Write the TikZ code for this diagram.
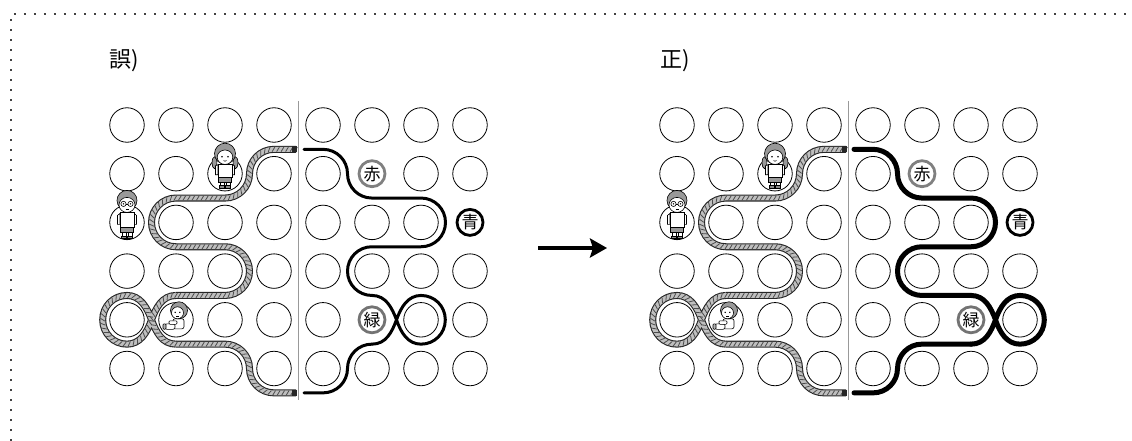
\documentclass[tikz,border=0pt]{standalone}
\usepackage{fontspec}
\newfontfamily\jp{Noto Sans CJK JP}
\usetikzlibrary{arrows.meta,decorations.markings}
\tikzset{
 plain/.style={circle, draw, line width=0.8pt, minimum size=34.5pt, inner sep=0pt},
 lab/.style={circle, draw, line width=2.8pt, minimum size=26pt, inner sep=0pt, font=\jp\fontsize{17pt}{17pt}\selectfont},
 title/.style={anchor=west, inner sep=0pt, font=\jp\fontsize{22pt}{22pt}\selectfont},
 divider/.style={draw=black!40, line width=1.6pt},
 dotline/.style={draw=black!75, line width=1.8pt, dash pattern=on 1.8pt off 8.2pt},
 ropeout/.style={draw=black!85, line width=7pt},
 ropein/.style={draw=black!25, line width=4.8pt},
 ropehatch/.style={decoration={markings, mark=between positions 0 and 1 step 4.5pt with {\draw[black!70, line width=0.8pt] (-1.4pt,-2.3pt) -- (1.4pt,2.3pt);}}, decorate},
 wline/.style={draw=black, line width=3pt, line cap=round},
 cline/.style={draw=black, line width=5pt, line cap=round},
 bigarrow/.style={line width=4.5pt, -{Stealth[length=17pt,width=19pt,inset=3pt]}},
 kid/.style={line width=0.6pt},
 rc/.style={rounded corners=24.35pt},
}
\def\ya{149.35}\def\yb{198.05}\def\yc{246.75}\def\yd{295.45}\def\ye{344.15}\def\yf{392.85}\def\ym{319.8}
% rope path in three pieces
\def\ropeA{(296,\ya) -- (249.5,\ya) -- (249.5,\yb) -- (151.5,\yb) -- (151.5,\yc) -- (249.5,\yc) -- (249.5,\yd) -- (176,\yd)}
\def\ropeB{(176,\yd) .. controls (162,\yd) and (156,308) .. (151.5,\ym) .. controls (147,333) and (140,\ye) .. (127,\ye) .. controls (113.5,\ye) and (102.7,333.5) .. (102.7,\ym) .. controls (102.7,306) and (113.5,\yd) .. (127,\yd) .. controls (140,\yd) and (147,307) .. (151.5,\ym) .. controls (156,332) and (162,\ye) .. (176,\ye)}
\def\ropeC{(176,\ye) -- (249.5,\ye) -- (249.5,\yf) -- (296,\yf)}
\newcommand\girlfig[1]{%
\begin{scope}[shift={#1}, kid]
 \filldraw[fill=black!40] (-10.5,-11) ellipse[x radius=2.4, y radius=6];
 \filldraw[fill=black!40] (10.5,-11) ellipse[x radius=2.4, y radius=6];
 \filldraw[fill=black!40] (0,-20) circle[radius=10.5];
 \filldraw[fill=white] (0,-16.5) ellipse[x radius=7.8, y radius=7.2];
 \fill (-3,-17) circle[radius=0.9]; \fill (3,-17) circle[radius=0.9];
 \draw[line width=0.5pt] (-1.5,-13.2) .. controls (-0.5,-12.2) and (0.5,-12.2) .. (1.5,-13.2);
 \filldraw[fill=white] (-9.5,-8) -- (-7,-9) -- (-7,1) -- (-9.5,1) -- cycle;
 \filldraw[fill=white] (9.5,-8) -- (7,-9) -- (7,1) -- (9.5,1) -- cycle;
 \filldraw[fill=white] (-7,-9.5) rectangle (7,3.5);
 \filldraw[fill=black!40] (-6.5,3.5) rectangle (6.5,8.5);
 \filldraw[fill=white] (-5,8.5) rectangle (-1,12);
 \filldraw[fill=white] (1,8.5) rectangle (5,12);
 \filldraw[fill=black!45] (-5.5,12) rectangle (-0.5,14.5);
 \filldraw[fill=black!45] (0.5,12) rectangle (5.5,14.5);
\end{scope}}
\newcommand\boyfig[1]{%
\begin{scope}[shift={#1}, kid]
 \filldraw[fill=black!40] (0,-22) circle[radius=10];
 \filldraw[fill=white] (0,-17.5) ellipse[x radius=8, y radius=7.5];
 \draw (-3.5,-18.5) circle[radius=2.6]; \draw (3.5,-18.5) circle[radius=2.6];
 \draw (-0.9,-18.5) -- (0.9,-18.5);
 \fill (-3.5,-18.5) circle[radius=0.8]; \fill (3.5,-18.5) circle[radius=0.8];
 \draw[line width=0.5pt] (-1.5,-13.5) -- (1.5,-13.5);
 \filldraw[fill=white] (-9.5,-7) -- (-7,-9) -- (-7,2) -- (-9.5,2) -- cycle;
 \filldraw[fill=white] (9.5,-7) -- (7,-9) -- (7,2) -- (9.5,2) -- cycle;
 \filldraw[fill=white] (-7,-10) rectangle (7,5);
 \filldraw[fill=black!40] (-6.5,5) rectangle (6.5,10);
 \filldraw[fill=white] (-5,10) rectangle (-1,13.5);
 \filldraw[fill=white] (1,10) rectangle (5,13.5);
 \filldraw[fill=black!45] (-5.5,13.5) rectangle (-0.5,16);
 \filldraw[fill=black!45] (0.5,13.5) rectangle (5.5,16);
\end{scope}}
\newcommand\babyfig[1]{%
\begin{scope}[shift={#1}, kid]
 \filldraw[fill=white, rounded corners=2pt] (-3,-1) rectangle (8,9);
 \filldraw[fill=white, rounded corners=2pt] (-11,4) rectangle (-1,9.5);
 \filldraw[fill=black!30, rounded corners=1pt] (-13,4) rectangle (-10,9.5);
 \filldraw[fill=white, rounded corners=1pt] (-7,1) rectangle (1,4.5);
 \filldraw[fill=black!40] (3,-9.5) circle[radius=8.5];
 \filldraw[fill=white] (1.5,-7) ellipse[x radius=6, y radius=6];
 \fill (-0.8,-7.5) circle[radius=0.8]; \fill (3.8,-7.5) circle[radius=0.8];
 \draw[line width=0.5pt] (0.3,-4) -- (2.5,-4);
\end{scope}}
\begin{document}
\begin{tikzpicture}[x=1pt,y=-1pt]
\useasboundingbox (0,0) rectangle (1132,441);
% dotted frame
\draw[dotline] (11,441) -- (11,14) -- (1132,14);
% titles
\node[title] (t1) at (109,61) {誤)};
\node[title] (t2) at (660,61) {正)};
% circles
\foreach \c in {1,...,8} \foreach \r in {1,...,6} {
  \pgfmathtruncatemacro\skipA{((\c==6)&&(\r==2))||((\c==8)&&(\r==3))||((\c==6)&&(\r==5))}
  \ifnum\skipA=0 \node[plain] (A\c\r) at ({127+49*(\c-1)},{125+48.7*(\r-1)}) {};\fi
  \pgfmathtruncatemacro\skipB{((\c==6)&&(\r==2))||((\c==8)&&(\r==3))||((\c==7)&&(\r==5))}
  \ifnum\skipB=0 \node[plain] (B\c\r) at ({677+49*(\c-1)},{125+48.7*(\r-1)}) {};\fi
}
% labels
\node[lab, draw=black!50] (Ared) at (372,173.7) {赤};
\node[lab, draw=black] (Ablue) at (470,222.4) {青};
\node[lab, draw=black!55] (Agreen) at (372,319.8) {緑};
\node[lab, draw=black!50] (Bred) at (922,173.7) {赤};
\node[lab, draw=black] (Bblue) at (1020,222.4) {青};
\node[lab, draw=black!55] (Bgreen) at (971,319.8) {緑};
% dividers
\draw[divider] (298.5,101) -- (298.5,400);
\draw[divider] (848.5,101) -- (848.5,400);
% children
\girlfig{(225,173.7)}
\boyfig{(127,222.4)}
\babyfig{(176,319.8)}
\begin{scope}[xshift=550pt]
\girlfig{(225,173.7)}
\boyfig{(127,222.4)}
\babyfig{(176,319.8)}
\end{scope}
% ropes
\foreach \s in {0,550} {
\begin{scope}[xshift=\s pt]
\draw[ropeout,rc] \ropeA;
\draw[ropeout] \ropeB;
\draw[ropeout,rc] \ropeC;
\draw[ropein,rc] \ropeA;
\draw[ropein] \ropeB;
\draw[ropein,rc] \ropeC;
\path[ropehatch,rc] \ropeA;
\path[ropehatch] \ropeB;
\path[ropehatch,rc] \ropeC;
\draw[line width=6pt, black!85] (291.5,\ya) -- (297,\ya);
\draw[line width=6pt, black!85] (291.5,\yf) -- (297,\yf);
\end{scope}
}
% wrong line
\draw[wline,rc] (304,\ya) -- (347.5,\ya) -- (347.5,\yb) -- (445.5,\yb) -- (445.5,\yc) -- (347.5,\yc) -- (347.5,\yd) -- (372,\yd);
\draw[wline] (372,\yd) .. controls (386,\yd) and (392,308) .. (396.5,\ym) .. controls (401,333) and (408,\ye) .. (421,\ye) .. controls (434.5,\ye) and (445.3,333.5) .. (445.3,\ym) .. controls (445.3,306) and (434.5,\yd) .. (421,\yd) .. controls (408,\yd) and (401,307) .. (396.5,\ym) .. controls (392,332) and (386,\ye) .. (372,\ye);
\draw[wline,rc] (372,\ye) -- (347.5,\ye) -- (347.5,\yf) -- (304,\yf);
% correct line
\draw[cline,rc] (854,\ya) -- (897.5,\ya) -- (897.5,\yb) -- (995.5,\yb) -- (995.5,\yc) -- (897.5,\yc) -- (897.5,\yd) -- (971,\yd);
\draw[cline] (971,\yd) .. controls (985,\yd) and (991,308) .. (995.5,\ym) .. controls (1000,333) and (1007,\ye) .. (1020,\ye) .. controls (1033.5,\ye) and (1044.3,333.5) .. (1044.3,\ym) .. controls (1044.3,306) and (1033.5,\yd) .. (1020,\yd) .. controls (1007,\yd) and (1000,307) .. (995.5,\ym) .. controls (991,332) and (985,\ye) .. (971,\ye);
\draw[cline,rc] (971,\ye) -- (897.5,\ye) -- (897.5,\yf) -- (854,\yf);
% arrow
\coordinate (arL) at (538,248);
\coordinate (arR) at (607,248);
\draw[bigarrow] (arL) -- (arR);
\end{tikzpicture}
\end{document}
